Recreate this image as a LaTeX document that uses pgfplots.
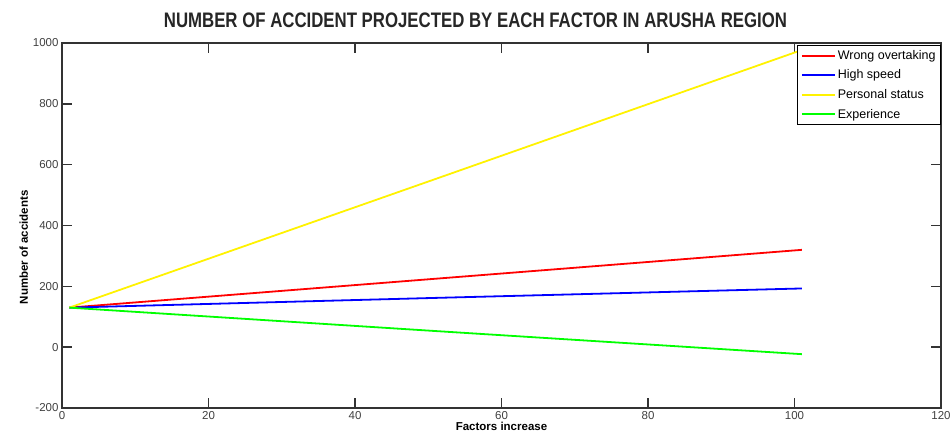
\documentclass[border=0pt]{standalone}
\usepackage{pgfplots}
\pgfplotsset{compat=1.18}
\usepackage{fontspec}
\setmainfont{Liberation Sans}
\begin{document}
\begin{tikzpicture}[x=1pt,y=1pt]
\useasboundingbox (-62,-37) rectangle (890,408);
\begin{axis}[
    at={(0,0)}, anchor=south west,
    scale only axis, width=879pt, height=365pt,
    xmin=0, xmax=120, ymin=-200, ymax=1000,
    xtick={0,20,...,120}, ytick={-200,0,...,1000},
    tick pos=both, tick align=inside, major tick length=10pt,
    axis line style={line width=1.5pt, black!80},
    tick style={line width=1.5pt, black!80},
    /pgf/number format/assume math mode=true,
    /pgf/number format/1000 sep={},
    tick label style={font=\fontsize{11.5}{12}\selectfont, text=black!75},
    title={\scalebox{0.8}[1]{\fontsize{21}{23}\selectfont\bfseries NUMBER OF ACCIDENT PROJECTED BY EACH FACTOR IN ARUSHA REGION}},
    title style={at={(0.5,1)}, anchor=south, yshift=6pt, xshift=-26pt, text=black!85},
    xlabel={\bfseries Factors increase},
    ylabel={\bfseries Number of accidents},
    label style={font=\fontsize{11.5}{12}\selectfont},
    xlabel style={yshift=4pt},
    ylabel style={at={(ticklabel cs:0.44)}, yshift=-2pt},
    legend style={at={(1,0.995)}, anchor=north east, draw=black, line width=1pt,
        font=\fontsize{12.5}{14}\selectfont, inner sep=3pt, row sep=5pt},
    legend cell align=left,
    legend image code/.code={\draw[#1] (0,0) -- (33pt,0);},
    legend image post style={line width=1.8pt},
    every axis plot/.append style={line width=1.8pt},
]
\addplot[red] coordinates {(1,130) (51,225) (101,320)};
\addlegendentry{Wrong overtaking}
\addplot[blue] coordinates {(1,130) (51,162) (101,193)};
\addlegendentry{High speed}
\addplot[yellow] coordinates {(1,130) (51,553) (101,977)};
\addlegendentry{Personal status}
\addplot[green] coordinates {(1,130) (51,53) (101,-23)};
\addlegendentry{Experience}
\end{axis}
\end{tikzpicture}
\end{document}
